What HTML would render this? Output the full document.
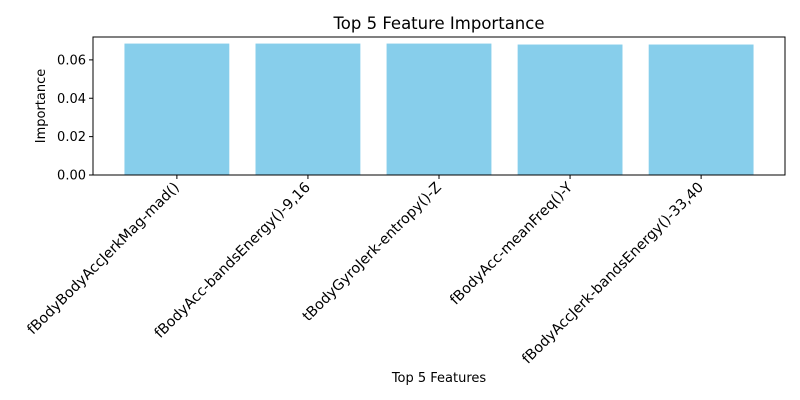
<!DOCTYPE html>
<html><head><meta charset="utf-8"><style>
html,body{margin:0;padding:0;background:#fff;}
svg{display:block;font-family:"DejaVu Sans","Liberation Sans",sans-serif;}
</style></head><body>
<svg id="chart" width="800" height="400" viewBox="0 0 800 400">
<rect width="800" height="400" fill="#fff"/>
<text x="439" y="29" text-anchor="middle" font-size="16.5" fill="#000">Top 5 Feature Importance</text>
<g id="bars"></g>
<g id="yaxis"></g>
<g id="xaxis"></g>
<rect x="93" y="37" width="692" height="138" fill="none" stroke="#000" stroke-width="1"/>
<text x="439" y="382" text-anchor="middle" font-size="13">Top 5 Features</text>
<text transform="translate(45,106) rotate(-90)" text-anchor="middle" font-size="13">Importance</text>
</svg>
<script>
const categories = ["fBodyBodyAccJerkMag-mad()","fBodyAcc-bandsEnergy()-9,16","tBodyGyroJerk-entropy()-Z","fBodyAcc-meanFreq()-Y","fBodyAccJerk-bandsEnergy()-33,40"];
const values = [0.0685,0.0685,0.0685,0.0680,0.0680];
const yTicks = [0,0.02,0.04,0.06];
const yTickLabels = ["0.00","0.02","0.04","0.06"];

const L=93,R=785,T=37,B=175;
const ns="http://www.w3.org/2000/svg";
const n=categories.length;
const xmin=-0.4-0.05*(n-1+0.8), xmax=n-1+0.4+0.05*(n-1+0.8);
const ymax=Math.max(...values)*1.05;
const xs=v=>L+(v-xmin)/(xmax-xmin)*(R-L);
const ys=v=>B-v/ymax*(B-T);
function mk(tag,attrs,parent){const e=document.createElementNS(ns,tag);for(const k in attrs)e.setAttribute(k,attrs[k]);parent.appendChild(e);return e;}
const gb=document.getElementById('bars'),gy=document.getElementById('yaxis'),gx=document.getElementById('xaxis');
values.forEach((v,i)=>{
  const r=mk('rect',{x:xs(i-0.4),y:ys(v),width:xs(i+0.4)-xs(i-0.4),height:B-ys(v),fill:'#87ceeb'},gb);
  
  
  const cx=xs(i);
  const t=mk('line',{x1:cx,x2:cx,y1:B,y2:B+4,stroke:'#000'},gx);
  
  
  const lb=mk('text',{transform:`translate(${cx-4},${B+6}) rotate(-45)`,'text-anchor':'end','font-size':'14.3',dy:'0.7em'},gx);
  lb.textContent=categories[i];
  
  
});
yTicks.forEach((v,i)=>{
  const y=ys(v);
  const t=mk('line',{x1:L-4,x2:L,y1:y,y2:y,stroke:'#000'},gy);
  
  
  const lb=mk('text',{x:L-7,y:y+4.5,'text-anchor':'end','font-size':'13'},gy);
  lb.textContent=yTickLabels[i];
  
  
});
</script>
</body></html>
